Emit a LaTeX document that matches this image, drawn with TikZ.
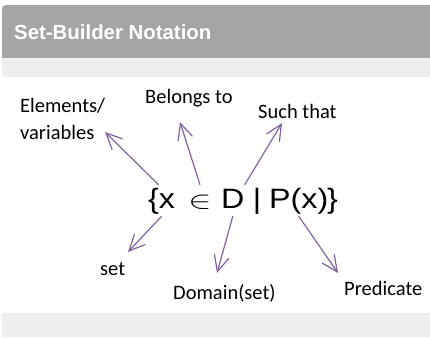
\documentclass[tikz,border=0pt]{standalone}
\usepackage{fontspec}
\setmainfont{Carlito}
\newfontfamily\arialfont{Liberation Sans}
\usetikzlibrary{arrows.meta}

\definecolor{headgray}{HTML}{A5A5A5}
\definecolor{bandgray}{HTML}{EEEEEE}
\definecolor{arrowpurple}{HTML}{8064A2}

% the set symbols are set a little wide
\newcommand{\widesym}[2][1.15]{\scalebox{#1}[1]{#2}}

\begin{document}
\begin{tikzpicture}[
        x=1pt,y=-1pt,
        word/.style={anchor=base west,inner sep=0pt,font=\fontsize{20.5}{27}\selectfont},
        sym/.style={anchor=base west,inner xsep=0pt,inner ysep=3pt,text height=20pt,text depth=5pt,font=\arialfont\fontsize{28}{28}\selectfont},
        pointer/.style={-{Straight Barb[length=16pt,width=15pt]},arrowpurple,line width=1.2pt}
    ]
        \useasboundingbox (0,0) rectangle (430,337);

        % Title bar and the light bands
        \fill[headgray] (2,58) [rounded corners=4pt] -- (2,5) [sharp corners] -- (430,5) -- (430,58) -- cycle;
        \fill[bandgray] (2,58) rectangle (430,77);
        \fill[bandgray] (2,313) rectangle (430,337);
        \node[anchor=base west,inner sep=0pt,text=white,font=\arialfont\bfseries\fontsize{20.4}{24}\selectfont] (title) at (14,40) {Set-Builder Notation};

        % Define the pieces of the set
        \node[sym] (fx) at (148,208) {\widesym{\{x}};
        \node[sym,anchor=base,font=\fontsize{26}{26}\selectfont] (fin) at (200,208) {\widesym[1.4]{$\in$}};
        \node[sym] (fd) at (221,208) {\widesym{D}};
        \node[sym,anchor=base] (fbar) at (257,208) {\widesym{|}};
        \node[sym] (fp) at (269,208) {\widesym{P(x)}};
        \node[sym] (fr) at (327,208) {\widesym{\}}};

        % Define the labels
        \node[word,align=left] (elem) at (20,139) {Elements/\\variables};
        \node[word] (belong) at (145,103) {Belongs to};
        \node[word] (such) at (258,118) {Such that};
        \node[word] (set) at (100,275) {set};
        \node[word] (dom) at (173,299) {Domain(set)};
        \node[word] (pred) at (344,295) {Predicate};

        % Arrow tips next to the labels
        \coordinate (elemtip) at (105,132);
        \coordinate (belongtip) at (180,122);
        \coordinate (suchtip) at (282,123);
        \coordinate (settip) at (128,252);
        \coordinate (domtip) at (217,273);
        \coordinate (predtip) at (338,273);

        % Draw the pointers
        \draw [pointer] ([xshift=-3pt]fx.north) -- (elemtip);
        \draw [pointer] (fin.north) -- (belongtip);
        \draw [pointer] (fd.north east) -- (suchtip);
        \draw [pointer] (fx.south) -- (settip);
        \draw [pointer] (fd.south) -- (domtip);
        \draw [pointer] (fp.south) -- (predtip);
    \end{tikzpicture}
\end{document}
